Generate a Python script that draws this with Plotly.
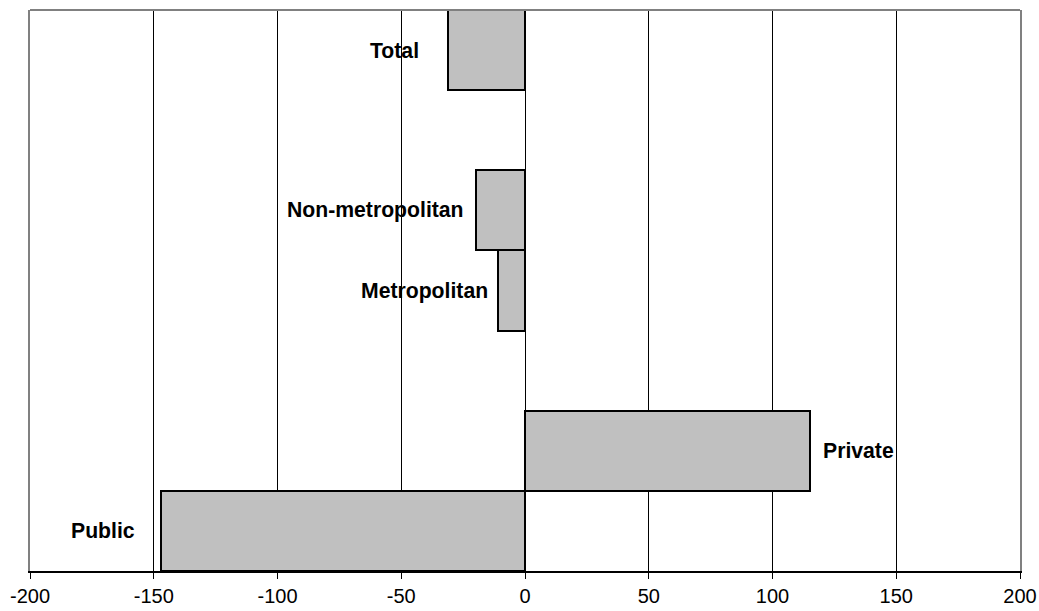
import plotly.graph_objects as go

# Data
categories = ["Total", "Non-metropolitan", "Metropolitan", "Private", "Public"]
values = [-31, -20, -11, 115, -147]
# category order on the axis, top to bottom (blank slots are spacers)
slot_order = ["Total", " ", "Non-metropolitan", "Metropolitan", "  ", "Private", "Public"]
tick_vals = [-200, -150, -100, -50, 0, 50, 100, 150, 200]
tick_text = ["-200", "-150", "-100", "-50", "0", "50", "100", "150", "200"]

# label offsets in pixels (style)
label_shift = {"Total": -27, "Non-metropolitan": -10, "Metropolitan": -8, "Private": 11, "Public": -24}

FONT = "Liberation Sans, Arial, sans-serif"

fig = go.Figure()
fig.add_trace(go.Bar(
    x=values, y=categories, orientation="h",
    marker=dict(color="#C0C0C0", line=dict(color="black", width=2)),
    width=1.0, hoverinfo="x+y",
))

for c, v in zip(categories, values):
    fig.add_annotation(
        x=v, y=c, xref="x", yref="y",
        text="<b>%s</b>" % c, showarrow=False,
        xanchor="left" if v > 0 else "right", yanchor="middle",
        xshift=label_shift[c],
        font=dict(family=FONT, size=21.2, color="black"),
    )

# top border
fig.add_shape(type="line", xref="paper", yref="paper", x0=0, x1=1, y0=1, y1=1,
              line=dict(color="#808080", width=2))

fig.update_layout(
    width=1039, height=611,
    margin=dict(l=30, r=19, t=10, b=40, autoexpand=False),
    paper_bgcolor="white", plot_bgcolor="white",
    bargap=0, showlegend=False,
    font=dict(family=FONT, size=20, color="black"),
)
fig.update_xaxes(
    range=[-200, 200], tickvals=tick_vals, ticktext=tick_text,
    showgrid=True, gridcolor="black", gridwidth=1,
    zeroline=False,
    showline=True, linecolor="black", linewidth=1.5,
    ticks="outside", ticklen=6, tickcolor="black", tickwidth=1,
    tickfont=dict(family=FONT, size=20, color="black"),
    ticklabeloverflow="allow",
    automargin=False,
)
fig.update_yaxes(
    type="category", categoryorder="array", categoryarray=slot_order[::-1],
    range=[-0.5, len(slot_order) - 0.5],
    showticklabels=False, showgrid=False, zeroline=False,
    showline=True, mirror=True, linecolor="#808080", linewidth=2, ticks="",
    automargin=False,
)

fig.write_html("out.html",
               config={"displayModeBar": False},
               post_script="document.body.style.margin='0';document.body.style.overflow='hidden';")
